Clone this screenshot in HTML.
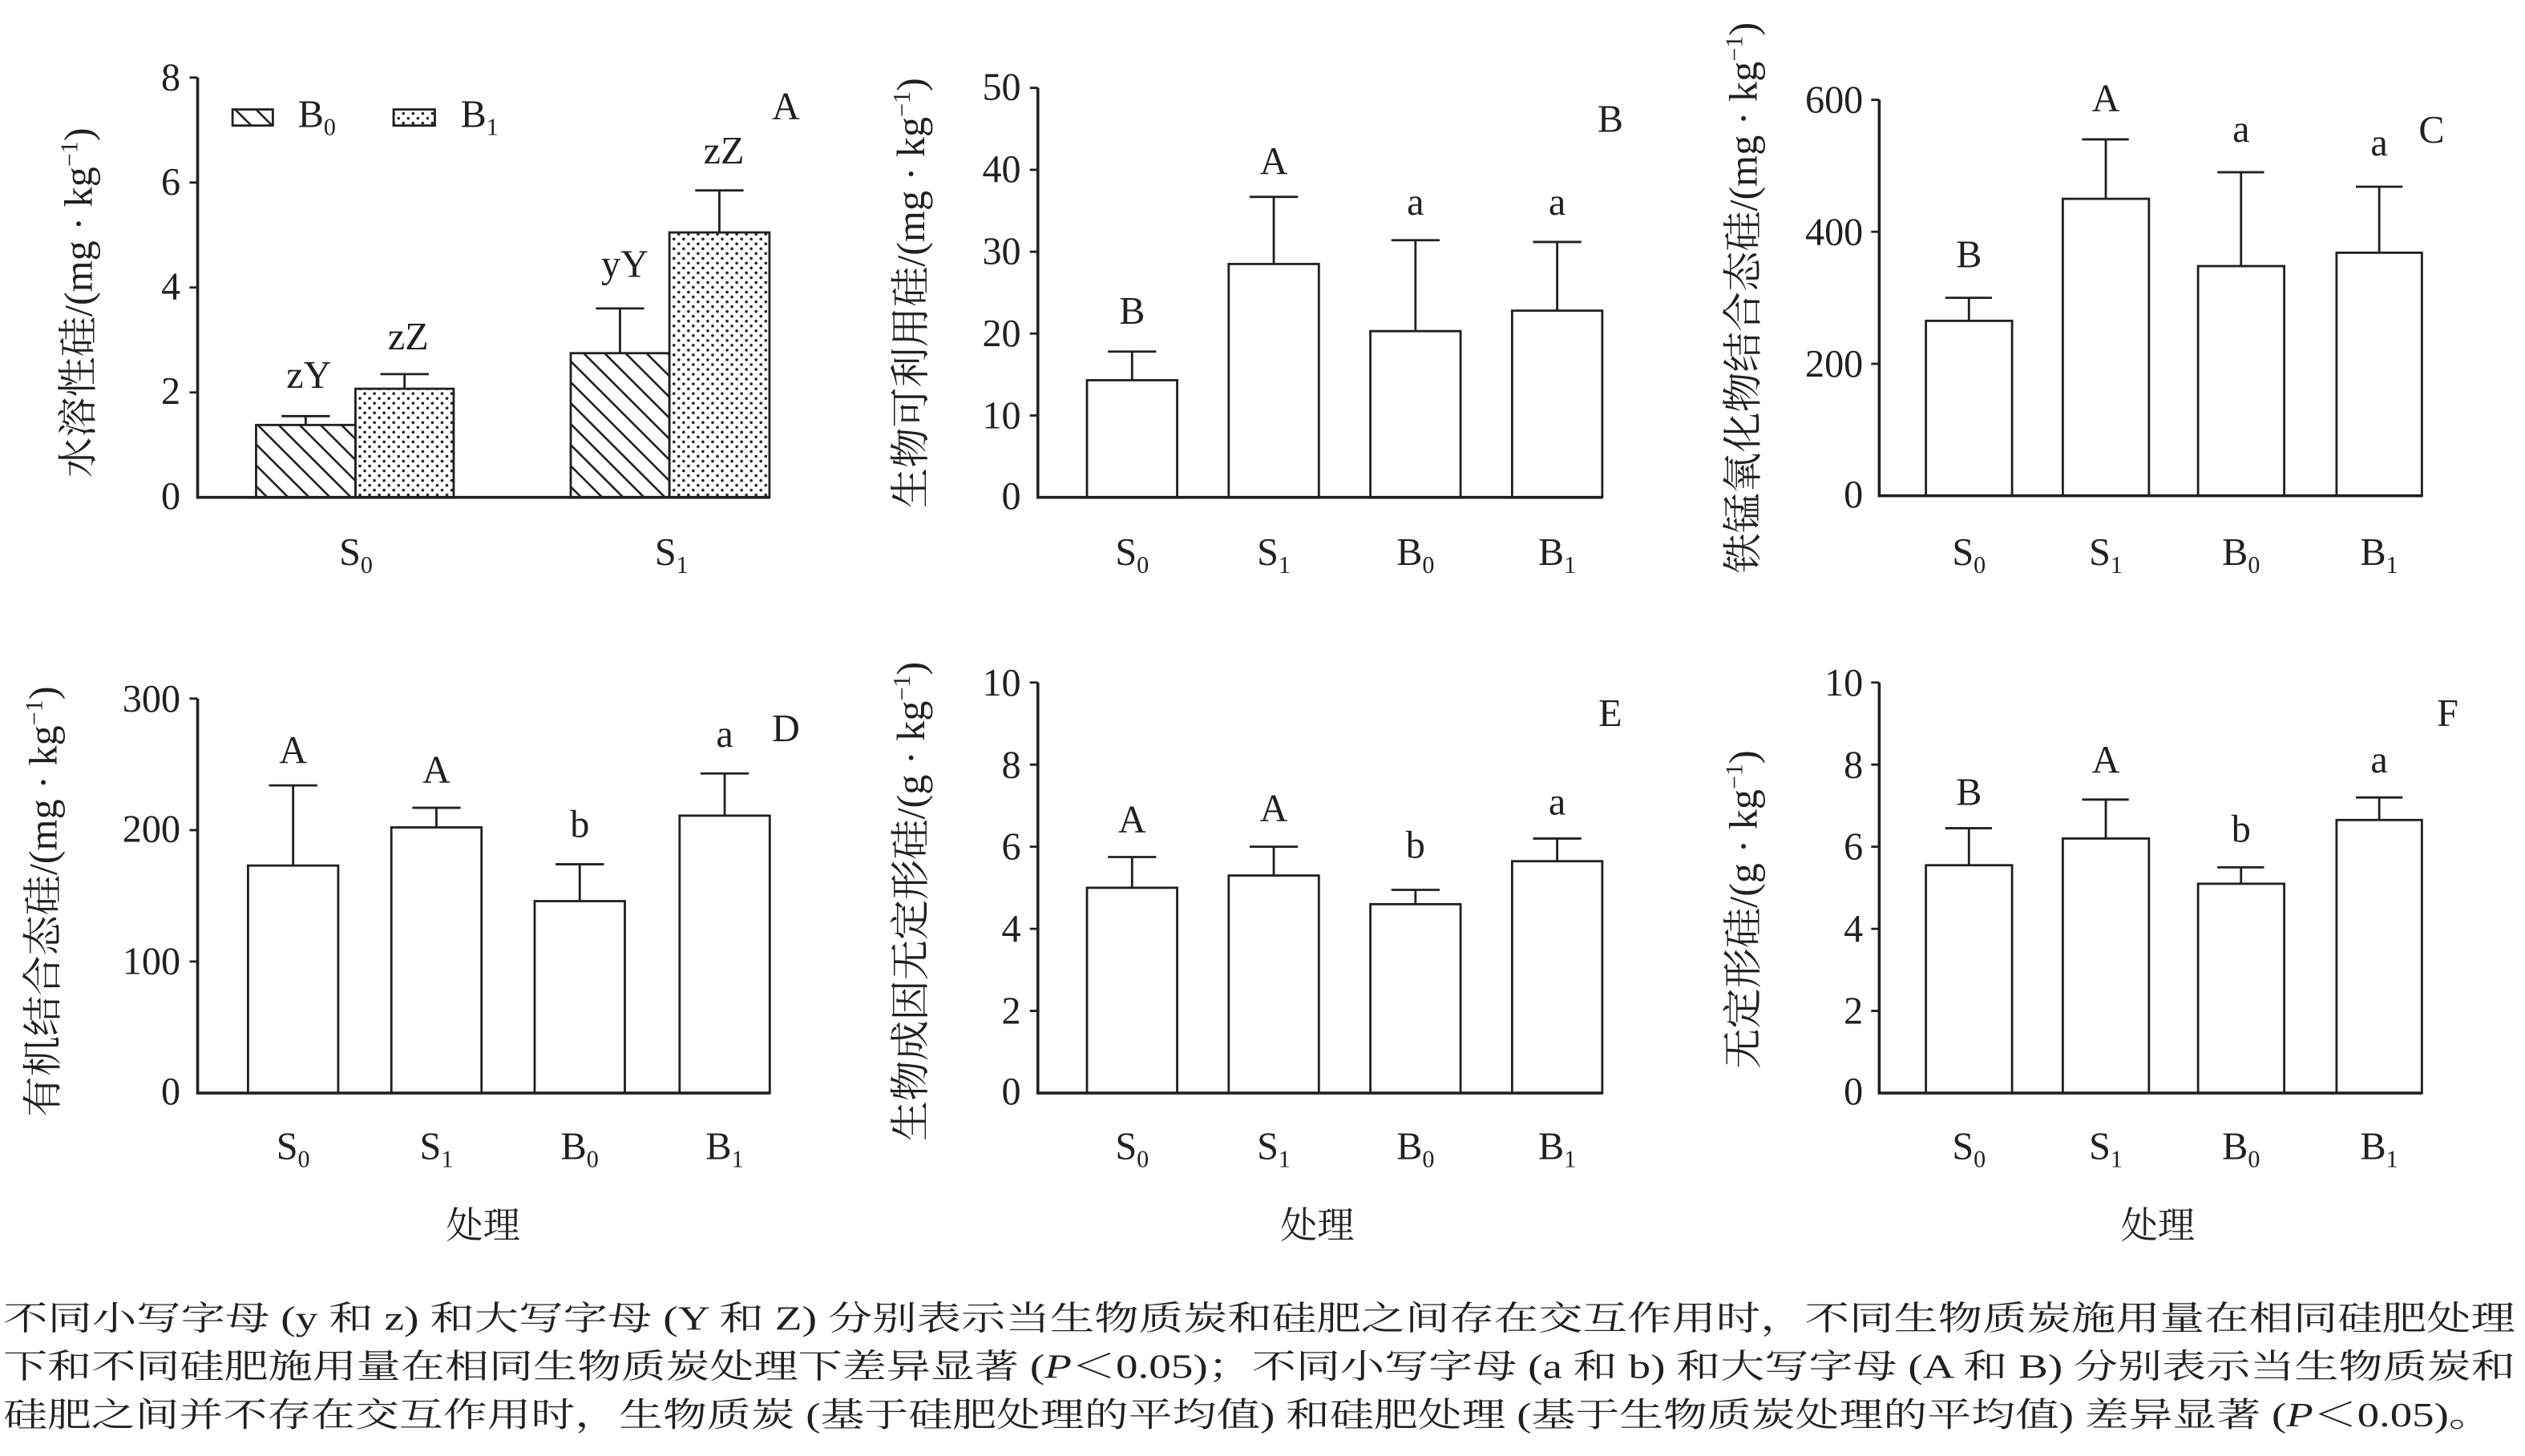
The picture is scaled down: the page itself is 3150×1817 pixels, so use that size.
<!DOCTYPE html>
<html><head><meta charset="utf-8"><style>html,body{margin:0;padding:0;background:#fff}svg{display:block}</style></head>
<body>
<svg xmlns="http://www.w3.org/2000/svg" width="3150" height="1817" viewBox="0 0 1568 904.5" font-family="'Liberation Serif','Noto Serif CJK SC',serif" fill="#231f20">
<defs>
<pattern id="hat" patternUnits="userSpaceOnUse" width="13" height="13">
<path d="M0,0 L13,13 M-6.5,6.5 L6.5,19.5 M6.5,-6.5 L19.5,6.5" stroke="#231f20" stroke-width="1.3"/>
</pattern>
<pattern id="dot" patternUnits="userSpaceOnUse" width="6" height="6">
<circle cx="1.5" cy="1.5" r="0.9" fill="#231f20"/><circle cx="4.5" cy="4.5" r="0.9" fill="#231f20"/>
</pattern>
</defs>
<g stroke="#231f20" stroke-width="1.4" fill="none">
<path d="M122.7,48.2 V309 H478" stroke-width="1.8"/>
<path d="M117.7,48.2 H122.7 M117.7,113.4 H122.7 M117.7,178.6 H122.7 M117.7,243.8 H122.7"/>
<rect x="159" y="264" width="61.7" height="45" fill="url(#hat)"/>
<rect x="220.7" y="241.5" width="61" height="67.5" fill="url(#dot)"/>
<rect x="354.4" y="219.4" width="61.3" height="89.6" fill="url(#hat)"/>
<rect x="415.7" y="144.4" width="62.1" height="164.6" fill="url(#dot)"/>
<path d="M189.8,264 V258.5 M174.8,258.5 H204.8 M251.2,241.5 V232.4 M236.2,232.4 H266.2 M385,219.4 V191.6 M370,191.6 H400 M446.7,144.4 V118.3 M431.7,118.3 H461.7"/>
<rect x="144.4" y="68" width="25" height="10" fill="url(#hat)"/>
<rect x="244.4" y="68" width="25.6" height="10" fill="url(#dot)"/>
<path d="M644.5,54.6 V309 H995" stroke-width="1.8"/>
<path d="M639.5,54.6 H644.5 M639.5,105.5 H644.5 M639.5,156.4 H644.5 M639.5,207.2 H644.5 M639.5,258.1 H644.5"/>
<rect x="675" y="236.2" width="56" height="72.8"/>
<rect x="763" y="164" width="56" height="145"/>
<rect x="851" y="205.7" width="56" height="103.3"/>
<rect x="939" y="193" width="56" height="116"/>
<path d="M703,236.2 V218.4 M688,218.4 H718 M791,164 V122.3 M776,122.3 H806 M879,205.7 V149.2 M864,149.2 H894 M967,193 V150.3 M952,150.3 H982"/>
<path d="M1167,62 V308 H1504" stroke-width="1.8"/>
<path d="M1162,62 H1167 M1162,144 H1167 M1162,226 H1167"/>
<rect x="1196" y="199.3" width="53.5" height="108.7"/>
<rect x="1281" y="123.5" width="53.5" height="184.5"/>
<rect x="1365" y="165.3" width="53.5" height="142.7"/>
<rect x="1451" y="157" width="53" height="151"/>
<path d="M1222.7,199.3 V185 M1208,185 H1237 M1307.7,123.5 V86.6 M1293,86.6 H1322 M1391.7,165.3 V107 M1377,107 H1406 M1477.5,157 V116 M1463,116 H1492"/>
<path d="M122.7,434 V679 H478" stroke-width="1.8"/>
<path d="M117.7,434 H122.7 M117.7,515.7 H122.7 M117.7,597.3 H122.7"/>
<rect x="154" y="537.7" width="56" height="141.3"/>
<rect x="243" y="514" width="56" height="165"/>
<rect x="332" y="559.8" width="56" height="119.2"/>
<rect x="422" y="506.7" width="56" height="172.3"/>
<path d="M182,537.7 V487.9 M167,487.9 H197 M271,514 V501.8 M256,501.8 H286 M360,559.8 V536.9 M345,536.9 H375 M450,506.7 V480.5 M435,480.5 H465"/>
<path d="M644.5,424 V679 H995" stroke-width="1.8"/>
<path d="M639.5,424 H644.5 M639.5,475 H644.5 M639.5,526 H644.5 M639.5,577 H644.5 M639.5,628 H644.5"/>
<rect x="675" y="551.5" width="56" height="127.5"/>
<rect x="763" y="543.9" width="56" height="135.1"/>
<rect x="851" y="561.7" width="56" height="117.3"/>
<rect x="939" y="535" width="56" height="144"/>
<path d="M703,551.5 V532.4 M688,532.4 H718 M791,543.9 V526 M776,526 H806 M879,561.7 V552.8 M864,552.8 H894 M967,535 V520.9 M952,520.9 H982"/>
<path d="M1167,424 V679 H1504" stroke-width="1.8"/>
<path d="M1162,424 H1167 M1162,475 H1167 M1162,526 H1167 M1162,577 H1167 M1162,628 H1167"/>
<rect x="1196" y="537.5" width="53.5" height="141.5"/>
<rect x="1281" y="520.9" width="53.5" height="158.1"/>
<rect x="1365" y="549" width="53.5" height="130"/>
<rect x="1451" y="509.4" width="53" height="169.6"/>
<path d="M1222.7,537.5 V514.5 M1208,514.5 H1237 M1307.7,520.9 V496.7 M1293,496.7 H1322 M1391.7,549 V538.8 M1377,538.8 H1406 M1477.5,509.4 V495.4 M1463,495.4 H1492"/>
</g>

<g font-size="24" text-anchor="end">
<text x="112" y="56">8</text><text x="112" y="121">6</text><text x="112" y="186">4</text><text x="112" y="251">2</text><text x="112" y="316">0</text>
<text x="634" y="62">50</text><text x="634" y="113">40</text><text x="634" y="164">30</text><text x="634" y="215">20</text><text x="634" y="266">10</text><text x="634" y="316">0</text>
<text x="1157" y="70">600</text><text x="1157" y="152">400</text><text x="1157" y="234">200</text><text x="1157" y="315">0</text>
<text x="112" y="442">300</text><text x="112" y="523">200</text><text x="112" y="605">100</text><text x="112" y="686">0</text>
<text x="634" y="432">10</text><text x="634" y="483">8</text><text x="634" y="534">6</text><text x="634" y="585">4</text><text x="634" y="636">2</text><text x="634" y="686">0</text>
<text x="1157" y="432">10</text><text x="1157" y="483">8</text><text x="1157" y="534">6</text><text x="1157" y="585">4</text><text x="1157" y="636">2</text><text x="1157" y="686">0</text>
</g>

<g font-size="24" text-anchor="middle">
<text x="191.8" y="241">zY</text><text x="253.5" y="217">zZ</text><text x="388" y="172">yY</text><text x="449.5" y="101.6">zZ</text><text x="488" y="74">A</text>
<text x="703" y="201">B</text><text x="791" y="108">A</text><text x="879" y="133.5">a</text><text x="967" y="133.5">a</text><text x="1000" y="82">B</text>
<text x="1222.7" y="166">B</text><text x="1307.7" y="69">A</text><text x="1391.7" y="88">a</text><text x="1477.5" y="96.5">a</text><text x="1510" y="88.6">C</text>
<text x="182" y="474">A</text><text x="271" y="486">A</text><text x="360" y="520">b</text><text x="450" y="464">a</text><text x="488" y="460.5">D</text>
<text x="703" y="517">A</text><text x="791" y="510">A</text><text x="879" y="533">b</text><text x="967" y="506">a</text><text x="1000" y="451">E</text>
<text x="1222.7" y="500">B</text><text x="1307.7" y="480">A</text><text x="1391.7" y="523">b</text><text x="1477.5" y="480">a</text><text x="1520" y="451">F</text>
</g>

<g font-size="24">
<text x="185" y="79">B<tspan font-size="15" dy="5">0</tspan></text>
<text x="286" y="79">B<tspan font-size="15" dy="5">1</tspan></text>
</g>

<g font-size="24" text-anchor="middle">
<text x="221" y="351">S<tspan font-size="15" dy="5">0</tspan></text><text x="417" y="351">S<tspan font-size="15" dy="5">1</tspan></text>
<text x="703" y="351">S<tspan font-size="15" dy="5">0</tspan></text><text x="791" y="351">S<tspan font-size="15" dy="5">1</tspan></text><text x="879" y="351">B<tspan font-size="15" dy="5">0</tspan></text><text x="967" y="351">B<tspan font-size="15" dy="5">1</tspan></text>
<text x="1222.7" y="351">S<tspan font-size="15" dy="5">0</tspan></text><text x="1307.7" y="351">S<tspan font-size="15" dy="5">1</tspan></text><text x="1391.7" y="351">B<tspan font-size="15" dy="5">0</tspan></text><text x="1477.5" y="351">B<tspan font-size="15" dy="5">1</tspan></text>
<text x="182" y="720">S<tspan font-size="15" dy="5">0</tspan></text><text x="271" y="720">S<tspan font-size="15" dy="5">1</tspan></text><text x="360" y="720">B<tspan font-size="15" dy="5">0</tspan></text><text x="450" y="720">B<tspan font-size="15" dy="5">1</tspan></text>
<text x="703" y="720">S<tspan font-size="15" dy="5">0</tspan></text><text x="791" y="720">S<tspan font-size="15" dy="5">1</tspan></text><text x="879" y="720">B<tspan font-size="15" dy="5">0</tspan></text><text x="967" y="720">B<tspan font-size="15" dy="5">1</tspan></text>
<text x="1222.7" y="720">S<tspan font-size="15" dy="5">0</tspan></text><text x="1307.7" y="720">S<tspan font-size="15" dy="5">1</tspan></text><text x="1391.7" y="720">B<tspan font-size="15" dy="5">0</tspan></text><text x="1477.5" y="720">B<tspan font-size="15" dy="5">1</tspan></text>
<text x="300" y="769" font-size="23">处理</text><text x="818" y="769" font-size="23">处理</text><text x="1340" y="769" font-size="23">处理</text>
</g>

<g font-size="25" text-anchor="middle">
<text transform="translate(57,188) rotate(-90)">水溶性硅/(mg · kg<tspan font-size="15" dy="-9">−1</tspan><tspan dy="9">)</tspan></text>
<text transform="translate(574,182) rotate(-90)">生物可利用硅/(mg · kg<tspan font-size="15" dy="-9">−1</tspan><tspan dy="9">)</tspan></text>
<text transform="translate(1091,185) rotate(-90)">铁锰氧化物结合态硅/(mg · kg<tspan font-size="15" dy="-9">−1</tspan><tspan dy="9">)</tspan></text>
<text transform="translate(35,560) rotate(-90)">有机结合态硅/(mg · kg<tspan font-size="15" dy="-9">−1</tspan><tspan dy="9">)</tspan></text>
<text transform="translate(574,560) rotate(-90)">生物成因无定形硅/(g · kg<tspan font-size="15" dy="-9">−1</tspan><tspan dy="9">)</tspan></text>
<text transform="translate(1091,565) rotate(-90)">无定形硅/(g · kg<tspan font-size="15" dy="-9">−1</tspan><tspan dy="9">)</tspan></text>
</g>

<g font-size="21">
<text x="2" y="826" textLength="1560" lengthAdjust="spacingAndGlyphs">不同小写字母 (y 和 z) 和大写字母 (Y 和 Z) 分别表示当生物质炭和硅肥之间存在交互作用时，不同生物质炭施用量在相同硅肥处理</text>
<text x="2" y="856" textLength="1560" lengthAdjust="spacingAndGlyphs">下和不同硅肥施用量在相同生物质炭处理下差异显著 (<tspan font-style="italic">P</tspan>＜0.05)；不同小写字母 (a 和 b) 和大写字母 (A 和 B) 分别表示当生物质炭和</text>
<text x="2" y="886" textLength="1546" lengthAdjust="spacingAndGlyphs">硅肥之间并不存在交互作用时，生物质炭 (基于硅肥处理的平均值) 和硅肥处理 (基于生物质炭处理的平均值) 差异显著 (<tspan font-style="italic">P</tspan>＜0.05)。</text>
</g>
</svg>
</body></html>
